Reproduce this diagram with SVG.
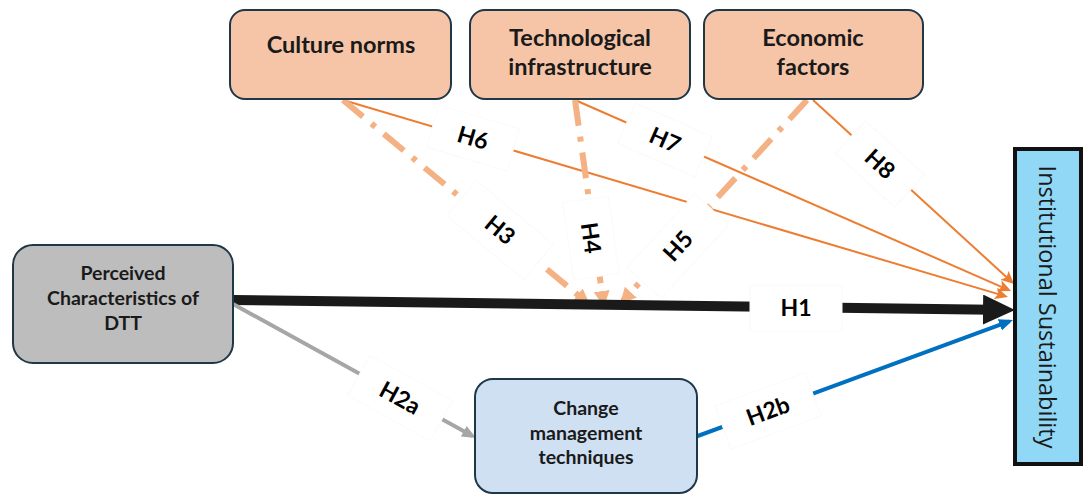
<svg xmlns="http://www.w3.org/2000/svg" width="1085" height="495" viewBox="0 0 1085 495">
<style>
.node{stroke:#1e3848;stroke-width:2}
.peach{fill:#f6c5a8}
.nt{font-family:Lato,"Open Sans",sans-serif;font-weight:700;font-size:19.5px;fill:#1a1a1a;text-anchor:middle}
.tt{font-size:23.5px}
.thin{stroke:#ed7d31;stroke-width:2;fill:none}
.dd{stroke:#f4b183;stroke-width:6;fill:none;stroke-dasharray:26 11 5 11}
.lb{fill:#ffffff;stroke:#fafafa;stroke-width:1}
.lt{font-family:Lato,"Open Sans",sans-serif;font-weight:700;font-size:23px;fill:#000;text-anchor:middle}
</style>
<defs>
<marker id="aBlack" markerUnits="userSpaceOnUse" markerWidth="34" markerHeight="32" refX="9" refY="15" orient="auto">
<path d="M0,0 L32,15 L0,30 z" fill="#1a1a1a"/>
</marker>
<marker id="aOrange" markerUnits="userSpaceOnUse" markerWidth="14" markerHeight="13" refX="10" refY="6" orient="auto">
<path d="M0,0 L13,6 L0,12 L3,6 z" fill="#ed7d31"/>
</marker>
<marker id="aLight" markerUnits="userSpaceOnUse" markerWidth="18" markerHeight="18" refX="12" refY="8" orient="auto">
<path d="M0,0 L16,8 L0,16 z" fill="#f4b183"/>
</marker>
<marker id="aGray" markerUnits="userSpaceOnUse" markerWidth="16" markerHeight="14" refX="10" refY="6" orient="auto">
<path d="M0,0 L14,6 L0,12 z" fill="#a6a6a6"/>
</marker>
<marker id="aBlue" markerUnits="userSpaceOnUse" markerWidth="16" markerHeight="14" refX="10" refY="6" orient="auto">
<path d="M0,0 L14,6 L0,12 z" fill="#0070c0"/>
</marker>
</defs>
<rect width="1085" height="495" fill="#ffffff"/>

<g id="connectors">
<line x1="343" y1="100" x2="1005.1" y2="296.1" class="thin" marker-end="url(#aOrange)"/>
<line x1="575" y1="100" x2="1008.3" y2="289.8" class="thin" marker-end="url(#aOrange)"/>
<line x1="813" y1="100" x2="1011.8" y2="282" class="thin" marker-end="url(#aOrange)"/>
<line x1="343" y1="100" x2="586.9" y2="302.4" class="dd" marker-end="url(#aLight)"/>
<line x1="575" y1="100" x2="603.4" y2="303" class="dd" marker-end="url(#aLight)"/>
<line x1="807" y1="100" x2="622.7" y2="301" class="dd" marker-end="url(#aLight)"/>
<line x1="233" y1="300" x2="992" y2="309.7" stroke="#1a1a1a" stroke-width="10" marker-end="url(#aBlack)"/>
<line x1="233" y1="304" x2="472.5" y2="436" stroke="#a6a6a6" stroke-width="4" marker-end="url(#aGray)"/>
<line x1="695" y1="437" x2="1009.2" y2="321.4" stroke="#0070c0" stroke-width="4" marker-end="url(#aBlue)"/>

<g transform="translate(473,138) rotate(16.5)"><rect x="-42" y="-22" width="84" height="44" class="lb"/><text class="lt" y="0" dy="0.35em">H6</text></g>
<g transform="translate(665,140) rotate(23.7)"><rect x="-42" y="-22" width="84" height="44" class="lb"/><text class="lt" y="0" dy="0.35em">H7</text></g>
<g transform="translate(880,164) rotate(42.5)"><rect x="-40" y="-22" width="80" height="44" class="lb"/><text class="lt" y="0" dy="0.35em">H8</text></g>
<g transform="translate(500,230) rotate(39.7)"><rect x="-50" y="-23" width="100" height="46" class="lb"/><text class="lt" y="0" dy="0.35em">H3</text></g>
<g transform="translate(591,238) rotate(82)"><rect x="-39" y="-23" width="78" height="46" class="lb"/><text class="lt" y="0" dy="0.35em">H4</text></g>
<g transform="translate(678,246) rotate(-47.5)"><rect x="-50" y="-23" width="100" height="46" class="lb"/><text class="lt" y="0" dy="0.35em">H5</text></g>
<g transform="translate(400,398) rotate(28.9)"><rect x="-47" y="-23" width="94" height="46" class="lb"/><text class="lt" y="0" dy="0.35em">H2a</text></g>
<g transform="translate(768,411) rotate(-20.2)"><rect x="-48" y="-23" width="96" height="46" class="lb"/><text class="lt" y="0" dy="0.35em">H2b</text></g>
<g transform="translate(796,308)"><rect x="-46" y="-23" width="92" height="46" class="lb"/><text class="lt" y="0" dy="0.35em">H1</text></g>
</g>

<g id="culture-norms">
<rect x="230" y="10" width="221" height="89" rx="15" class="node peach"/>
<text class="nt tt" x="341" y="53">Culture norms</text>
</g>
<g id="technological-infrastructure">
<rect x="470" y="10" width="220" height="89" rx="15" class="node peach"/>
<text class="nt tt" x="580" y="46">Technological</text>
<text class="nt tt" x="580" y="75">infrastructure</text>
</g>
<g id="economic-factors">
<rect x="704" y="10" width="219" height="89" rx="15" class="node peach"/>
<text class="nt tt" x="813" y="46">Economic</text>
<text class="nt tt" x="813" y="75">factors</text>
</g>
<g id="perceived-characteristics">
<rect x="13" y="245" width="220" height="118" rx="20" class="node" fill="#bdbdbd"/>
<text class="nt" x="123" y="280">Perceived</text>
<text class="nt" x="123" y="305">Characteristics of</text>
<text class="nt" x="123" y="330">DTT</text>
</g>
<g id="change-management">
<rect x="475" y="379" width="222" height="114" rx="18" class="node" fill="#cfe0f3"/>
<text class="nt" x="586" y="415" font-size="20.5">Change</text>
<text class="nt" x="586" y="440" font-size="20.5">management</text>
<text class="nt" x="586" y="464" font-size="20.5">techniques</text>
</g>
<g id="institutional-sustainability">
<rect x="1015" y="149" width="66" height="315" fill="#91d8f6" stroke="#111111" stroke-width="4"/>
<text transform="translate(1047,307) rotate(90)" font-family="'Open Sans',sans-serif" font-size="23.5" fill="#1a1a1a" text-anchor="middle" dy="0.35em">Institutional Sustainability</text>
</g>
</svg>
